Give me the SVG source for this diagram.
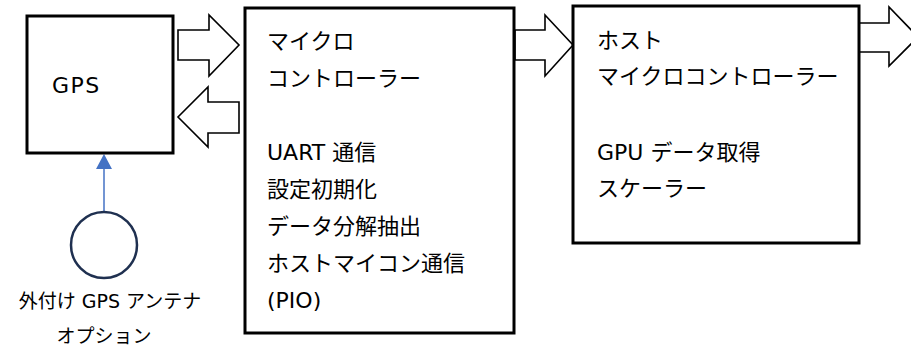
<svg xmlns="http://www.w3.org/2000/svg" width="911" height="351" viewBox="0 0 911 351">
<defs>
<style>
.box{fill:#fff;stroke:#000;stroke-width:3}
.blk{fill:#fff;stroke:#000;stroke-width:1.6;stroke-linejoin:miter}
.t{font-family:"DejaVu Sans","Noto Sans CJK JP",sans-serif;font-size:22px;fill:#000}
.lab{font-family:"DejaVu Sans","Noto Sans CJK JP",sans-serif;font-size:19px;fill:#000}
</style>
</defs>
<rect width="911" height="351" fill="#fff"/>
<g id="connectors">
<polygon class="blk" points="178,30 209,30 209,15 239,45 209,76 209,60 178,60"/>
<polygon class="blk" points="239,102 208,102 208,87 178,117 208,147 208,133 239,133"/>
<polygon class="blk" points="515,30 545,30 545,15 573,45 545,76 545,60 515,60"/>
<polygon class="blk" points="859,23 889,23 889,7 918,37 889,66 889,52 859,52"/>
<line x1="104" y1="212" x2="104" y2="169" stroke="#4472c4" stroke-width="1.5"/>
<polygon points="104,154 96,169 112,169" fill="#4472c4"/>
</g>
<g id="gps">
<rect class="box" x="27" y="16" width="146" height="137"/>
<text class="t" x="52" y="93" letter-spacing="1.5">GPS</text>
</g>
<g id="mcu">
<rect class="box" x="245" y="8" width="269" height="325"/>
<text class="t" x="267" y="49">マイクロ</text>
<text class="t" x="267" y="86">コントローラー</text>
<text class="t" x="267" y="160">UART 通信</text>
<text class="t" x="267" y="197">設定初期化</text>
<text class="t" x="267" y="234">データ分解抽出</text>
<text class="t" x="267" y="271">ホストマイコン通信</text>
<text class="t" x="267" y="308">(PIO)</text>
</g>
<g id="host">
<rect class="box" x="573" y="6" width="286" height="237"/>
<text class="t" x="597" y="48">ホスト</text>
<text class="t" x="597" y="84">マイクロコントローラー</text>
<text class="t" x="597" y="160">GPU データ取得</text>
<text class="t" x="597" y="196">スケーラー</text>
</g>
<g id="antenna">
<circle cx="104" cy="245" r="33" fill="#fff" stroke="#1f3050" stroke-width="2.5"/>
<text class="lab" x="110" y="308" text-anchor="middle">外付け GPS アンテナ</text>
<text class="lab" x="104" y="343" text-anchor="middle">オプション</text>
</g>
</svg>
